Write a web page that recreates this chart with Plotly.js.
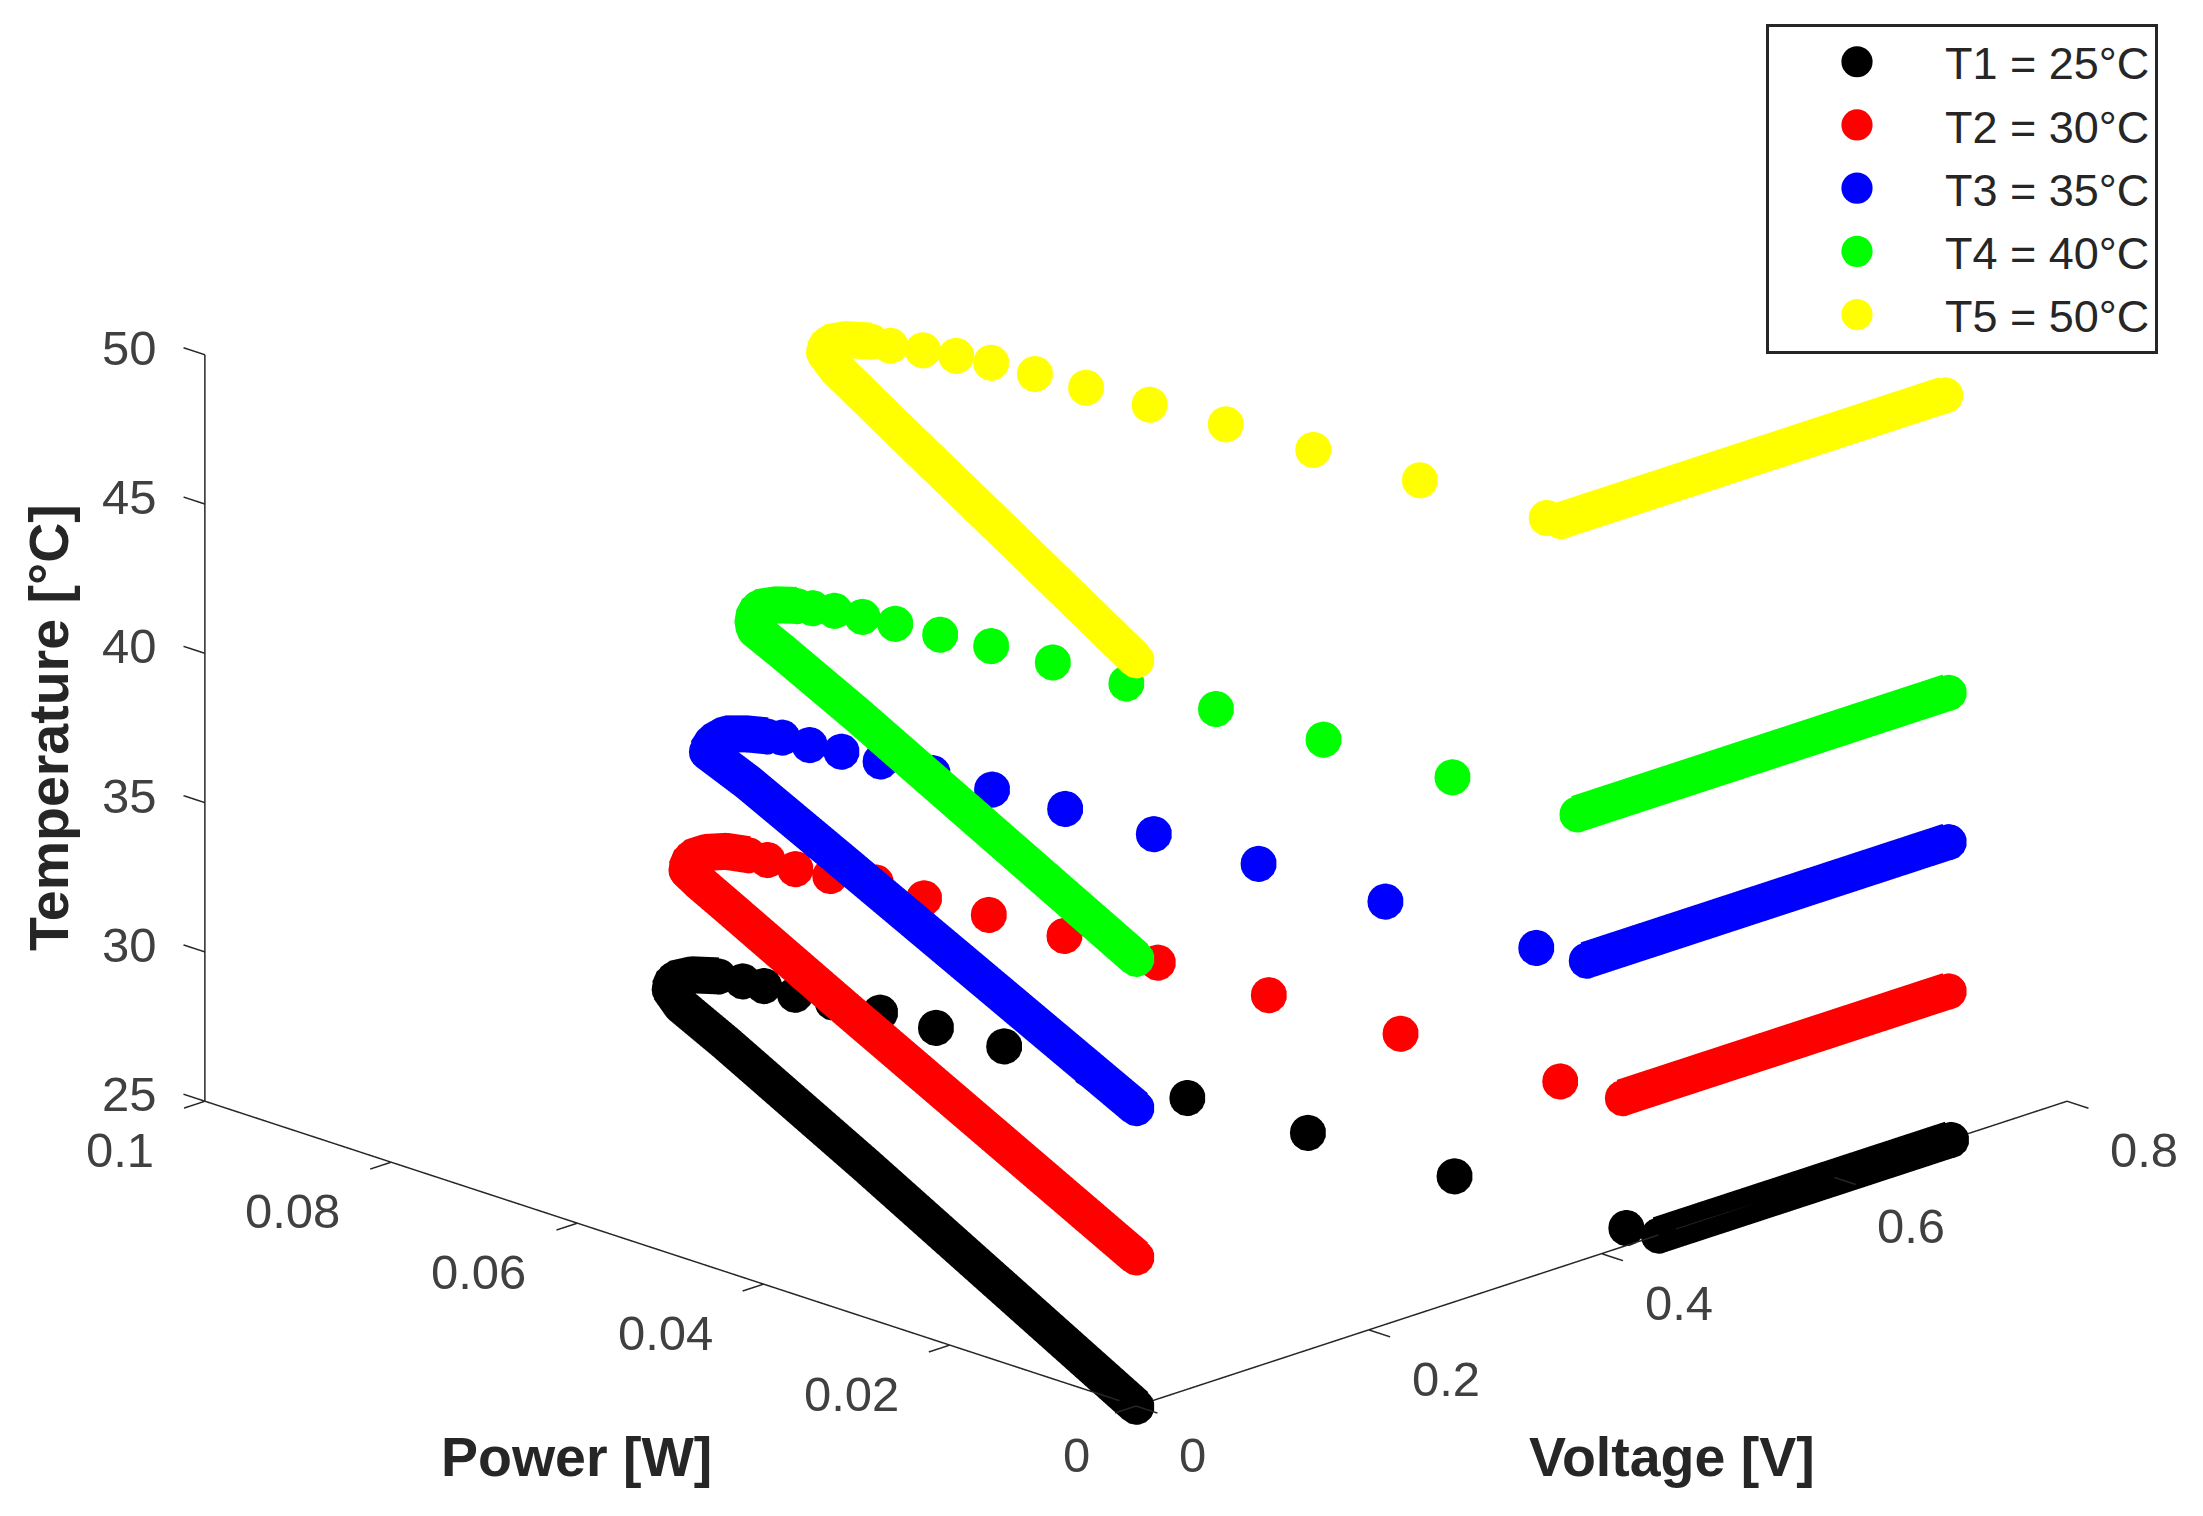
<!DOCTYPE html>
<html><head><meta charset="utf-8">
<script src="https://cdn.plot.ly/plotly-3.0.1.min.js"></script>
<style>html,body{margin:0;padding:0;background:#fff}</style></head>
<body><div id="chart" style="width:2203px;height:1516px"></div>
<script>
const names=['T1 = 25°C','T2 = 30°C','T3 = 35°C','T4 = 40°C','T5 = 50°C'];
const temps=[25,30,35,40,50];
const colors=['#000000','#ff0000','#0000ff','#00ff00','#ffff00'];
const voltageTicks=[0,.2,.4,.6,.8];
const powerTicks=[0,.02,.04,.06,.08,.1];
const tempTicks=[25,30,35,40,45,50];
// rising part and knee of each curve (closely sampled in the source, reads as a band)
const riseV=[
[0,.1,.2,.3,.33,.347,.362,.375,.385],
[0,.1,.2,.28,.304,.315,.333,.346,.356,.361],
[0,.1,.2,.26,.283,.299,.314,.323,.329],
[0,.1,.2,.25,.268,.281,.298,.309,.317],
[0,.1,.2,.253,.27,.284,.295,.304]];
const riseP=[
[0,.027,.054,.0815,.0901,.0935,.0949,.0946,.093],
[0,.028,.056,.0782,.0849,.0877,.0894,.0894,.0885,.0868],
[0,.0285,.057,.0742,.0815,.0828,.0833,.0822,.0808],
[0,.0275,.055,.0692,.0745,.0763,.0778,.0773,.0761],
[0,.0252,.0505,.0638,.0673,.0685,.0681,.0665]];
// falling part: separate dots
const dotV=[
[.389,.392,.394,.400,.407,.411,.416,.422,.427,.433,.439,.445],
[.363,.363,.369,.380,.380,.386,.391,.396,.401,.407,.413],
[.334,.336,.341,.345,.352,.356,.362,.367,.373,.378,.382],
[.321,.327,.331,.336,.341,.348,.353,.357,.362,.368,.374],
[.307,.315,.322,.328,.332,.336,.341,.348,.352,.358,.363]];
const dotP=[
[.0909,.0890,.0859,.0826,.0784,.0729,.0662,.0578,.0479,.0357,.0207,.0030],
[.0850,.0820,.0790,.0755,.0703,.0641,.0566,.0472,.0359,.0225,.0061],
[.0798,.0771,.0743,.0706,.0659,.0600,.0529,.0440,.0335,.0205,.0048],
[.0749,.0733,.0708,.0679,.0637,.0591,.0531,.0457,.0367,.0259,.0128],
[.0648,.0623,.0596,.0566,.0524,.0474,.0412,.0339,.0250,.0143,.0013]];
// zero-power tail: closely sampled, reads as a band
const tailV=[[.449,.70],[.418,.698],[.387,.698],[.379,.698],[.365,.695]];
const tailP=[[0,0],[0,0],[0,0],[0,0],[0,0]];
const MS=21, LW=74;
const traces=[];
const seg={x:[],y:[],z:[]};
const addSeg=(a,b)=>{seg.x.push(a[0],b[0],null);seg.y.push(a[1],b[1],null);seg.z.push(a[2],b[2],null);};
addSeg([0,0,25],[.8,0,25]);addSeg([0,0,25],[0,.1,25]);addSeg([0,.1,25],[0,.1,50]);
const dV=.018,dP=.0023;
voltageTicks.forEach(v=>addSeg([v,0,25],[v,-dP,25]));
powerTicks.forEach(p=>addSeg([0,p,25],[-dV,p,25]));
tempTicks.forEach(t=>addSeg([0,.1,t],[0,.1+dP,t]));
traces.push({type:'scatter3d',mode:'lines',x:seg.x,y:seg.y,z:seg.z,line:{color:'#262626',width:3},showlegend:false,hoverinfo:'skip',connectgaps:false});
temps.forEach((t,i)=>{
  const band=(vs,ps)=>({type:'scatter3d',mode:'lines+markers',x:vs,y:ps,z:vs.map(()=>t),
    line:{color:colors[i],width:LW},marker:{color:colors[i],size:MS,line:{width:0}},showlegend:false,hoverinfo:'skip'});
  traces.push(band(riseV[i],riseP[i]));
  traces.push(band(tailV[i],tailP[i]));
  traces.push({type:'scatter3d',mode:'markers',name:names[i],x:dotV[i],y:dotP[i],z:dotV[i].map(()=>t),
    marker:{color:colors[i],size:MS,line:{width:0}}});
});
const FF='Liberation Sans, Arial, sans-serif';
const tickfont={family:FF,size:49,color:'#404040'};
const ax=(range)=>({range,autorange:false,visible:false,showgrid:false,zeroline:false,showbackground:false,showline:false,showticklabels:false,ticks:'',title:{text:''},showspikes:false});
const titleFont={family:FF,size:55.5,color:'#262626'};
const sceneAnn=[];
voltageTicks.forEach(v=>sceneAnn.push({x:v,y:0,z:25,text:String(v),showarrow:false,font:tickfont,xanchor:'left',yanchor:'middle',xshift:41,yshift:-49}));
powerTicks.forEach(p=>sceneAnn.push({x:0,y:p,z:25,text:String(p),showarrow:false,font:tickfont,xanchor:'right',yanchor:'middle',xshift:p===0?-44:-49,yshift:-49}));
tempTicks.forEach(t=>sceneAnn.push({x:0,y:.1,z:t,text:String(t),showarrow:false,font:tickfont,xanchor:'right',yanchor:'middle',xshift:-46,yshift:7}));
const k=1.881;
const titleAnn=(x,y,text,extra)=>Object.assign({xref:'paper',yref:'paper',x:x/2203,y:1-y/1516,xanchor:'center',yanchor:'middle',text:'<b>'+text+'</b>',showarrow:false,font:titleFont},extra||{});
const layout={width:2203,height:1516,margin:{l:0,r:0,t:0,b:0},paper_bgcolor:'#fff',showlegend:true,
  legend:{x:1766/2203,y:1-24/1516,xanchor:'left',yanchor:'top',font:{family:FF,size:45,color:'#262626'},
    bordercolor:'#262626',borderwidth:3,bgcolor:'#fff',itemwidth:166,itemsizing:'constant',entrywidth:238},
  scene:{domain:{x:[136/2203,2136/2203],y:[88/1516,1488/1516]},
    camera:{projection:{type:'orthographic'},eye:{x:-2.568,y:-2.568,z:1.2584},center:{x:0,y:0,z:0},up:{x:0,y:0,z:1}},
    aspectmode:'manual',aspectratio:{x:1.5*k,y:1.5*k,z:.84*k},
    xaxis:ax([-.2,1]),yaxis:ax([-.025,.125]),zaxis:ax([20,55]),
    annotations:sceneAnn},
  annotations:[
    titleAnn(1672,1457,'Voltage [V]'),
    titleAnn(576,1457,'Power [W]'),
    titleAnn(49,728,'Temperature [°C]',{textangle:-90})
  ]};
Plotly.newPlot('chart',traces,layout,{displayModeBar:false}).then(()=>{
  document.querySelectorAll('.legendpoints path').forEach(p=>{const tr=p.getAttribute('transform')||'';p.setAttribute('transform',tr+' scale(2.6)');});
  // source legend rows sit slightly further apart than the default row height
  document.querySelectorAll('.legend .traces').forEach((g,i)=>{
    const m=/translate\(([^,]+),\s*([^)]+)\)/.exec(g.getAttribute('transform')||'');
    if(m) g.setAttribute('transform','translate('+m[1]+','+(parseFloat(m[2])-1+i*1.7)+')');
  });
  const bg=document.querySelector('.legend rect.bg');
  if(bg) bg.setAttribute('height',parseFloat(bg.getAttribute('height'))+5.6);
  const sb=document.querySelector('.legend .scrollbox');
  if(sb) sb.removeAttribute('clip-path');
});
</script></body></html>
